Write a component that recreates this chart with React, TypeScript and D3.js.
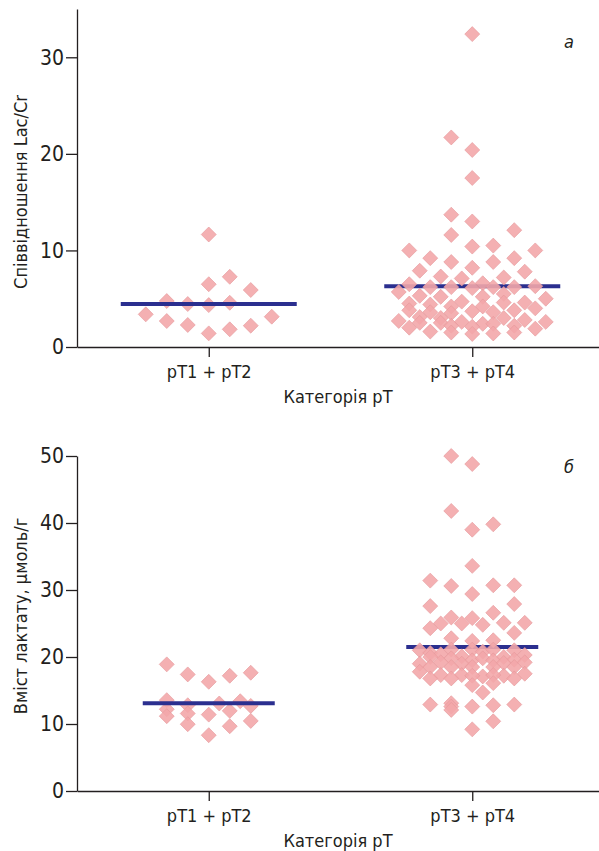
import { useEffect, useRef } from "react";
import * as d3 from "d3";

const categories = ["pT1 + pT2", "pT3 + pT4"];

// panel а: Lac/Cr ratio, points as [slot, value]
const ratioLow: [number, number][] = [
  [0, 11.65], [2, 7.27], [0, 6.5], [4, 5.9], [-4, 4.76], [-2, 4.45], [0, 4.34], [2, 4.58],
  [-6, 3.38], [-4, 2.69], [-2, 2.28], [0, 1.41], [2, 1.83], [4, 2.21], [6, 3.14],
];
const ratioHigh: [number, number][] = [
  [0, 32.4], [-2, 21.7], [0, 20.4], [0, 17.5], [-2, 13.7], [0, 13.0], [4, 12.1], [-2, 11.6],
  [0, 10.4], [2, 10.5], [-6, 10.0], [6, 10.0], [-4, 9.2], [-2, 8.8], [2, 8.8], [4, 9.2],
  [0, 8.2], [-5, 7.9], [5, 7.8], [-3, 7.3], [-1, 7.1], [3, 7.2],
  [-6, 6.5], [-4, 6.2], [-2, 6.2], [1, 6.6], [0, 6.1], [2, 6.2], [4, 6.2], [6, 6.3],
  [-7, 5.7], [-5, 5.3], [-3, 5.2], [1, 5.2], [3, 5.5], [7, 5.0], [-1, 4.7], [3, 4.6],
  [5, 4.6], [-6, 4.5], [-4, 4.4], [-2, 4.2], [1, 4.2],
  [-6, 3.8], [-4, 3.6], [-2, 3.5], [0, 3.7], [2, 3.6], [4, 3.8], [6, 4.0], [-5, 3.1],
  [-3, 3.0], [3, 3.0], [5, 2.8], [7, 2.6], [-7, 2.7], [-5, 2.5], [-3, 2.5], [-1, 2.6],
  [1, 2.4], [-6, 2.0], [-2, 2.2], [0, 2.1], [2, 2.4], [4, 2.2], [6, 1.9], [-4, 1.6],
  [-2, 1.5], [0, 1.35], [2, 1.4], [4, 1.5],
];
const ratioMedians = [4.45, 6.3];
const ratioTicks = [0, 10, 20, 30];

// panel б: lactate content
const lactateLow: [number, number][] = [
  [-4, 18.9], [-2, 17.4], [0, 16.3], [2, 17.2], [4, 17.65], [-4, 13.56], [-2, 12.8],
  [1, 13.06], [3, 13.4], [4, 12.7], [-4, 12.2], [-4, 11.17], [-2, 11.57], [0, 11.4],
  [2, 11.96], [-2, 9.97], [2, 9.67], [4, 10.46], [0, 8.33],
];
const lactateHigh: [number, number][] = [
  [-2, 50.0], [0, 48.8], [-2, 41.8], [0, 39.0], [2, 39.8], [0, 33.6], [-4, 31.4], [-2, 30.6],
  [2, 30.7], [4, 30.7], [0, 29.4], [-4, 27.6], [4, 27.9], [2, 26.6], [-2, 25.9], [0, 25.8],
  [-3, 25.0], [-1, 25.0], [1, 24.8], [3, 25.1], [5, 25.1], [-4, 24.3], [4, 23.6], [-2, 22.8],
  [0, 22.4], [2, 22.5],
  [-5, 21.0], [-4, 20.6], [-3, 20.4], [-2, 21.1], [-1, 20.1], [0, 21.1], [1, 20.8], [2, 21.1],
  [3, 20.0], [4, 21.0], [5, 20.3],
  [-4, 20.0], [-2, 19.8], [0, 19.5], [1, 19.8], [2, 19.5], [4, 19.6], [-5, 19.0], [-3, 19.2],
  [-1, 19.0], [3, 19.1], [5, 19.2],
  [-4, 18.5], [-2, 18.5], [0, 18.5], [2, 18.5], [4, 18.5],
  [-5, 17.8], [-3, 17.3], [-1, 17.3], [1, 17.1], [3, 17.2], [5, 17.5], [-4, 16.8], [-2, 16.8],
  [0, 17.2], [2, 17.3], [4, 16.8],
  [0, 15.8], [2, 16.1], [1, 14.7], [-4, 12.9], [-2, 13.1], [-2, 12.6], [-2, 12.1], [0, 12.6],
  [2, 12.8], [4, 12.9], [2, 10.4], [0, 9.2],
];
const lactateMedians = [13.1, 21.5];
const lactateTicks = [0, 10, 20, 30, 40, 50];

const W = 599;
const H = 851;
const FONT = "'Liberation Sans Narrow', 'DejaVu Sans Condensed', 'Arial Narrow', sans-serif";
const INK = "#231f20";
const PINK = "#f3a7aa";
const NAVY = "#2b2f8f";

const panels = [
  {
    top: 9, bottom: 347, max: 35, ticks: ratioTicks, groups: [ratioLow, ratioHigh],
    medians: ratioMedians, halfWidth: 88, title: "Співвідношення Lac/Cr", tag: "а",
    tagY: 48, titleY: 192,
  },
  {
    top: 456, bottom: 791, max: 50, ticks: lactateTicks, groups: [lactateLow, lactateHigh],
    medians: lactateMedians, halfWidth: 66, title: "Вміст лактату, μмоль/г", tag: "б",
    tagY: 473, titleY: 616,
  },
];

const App = () => {
  const ref = useRef<SVGSVGElement>(null);

  useEffect(() => {
    const svg = d3.select(ref.current);
    svg.selectAll("*").remove();

    const x = d3.scalePoint<string>().domain(categories).range([77, 604]).padding(0.5);
    const slot = d3.scaleLinear().domain([-1, 1]).range([-10.5, 10.5]);
    const diamond = d3.symbol(d3.symbolSquare, 112)();

    panels.forEach((p) => {
      const g = svg.append("g");
      const y = d3.scaleLinear().domain([0, p.max]).range([p.bottom, p.top]);

      const drawPoints = (i: number) => {
        g.append("g")
          .selectAll("path")
          .data(p.groups[i])
          .join("path")
          .attr("d", diamond)
          .attr("transform", (d) => `translate(${x(categories[i])! + slot(d[0])},${y(d[1])}) rotate(45)`)
          .attr("fill", PINK)
          .attr("fill-opacity", 0.9)
          .attr("stroke", "#e6989c")
          .attr("stroke-width", 0.6);
      };

      drawPoints(0);

      g.append("g")
        .selectAll("line")
        .data(p.medians)
        .join("line")
        .attr("x1", (d, i) => x(categories[i])! - p.halfWidth)
        .attr("x2", (d, i) => x(categories[i])! + p.halfWidth)
        .attr("y1", (d) => y(d))
        .attr("y2", (d) => y(d))
        .attr("stroke", NAVY)
        .attr("stroke-width", 4);

      drawPoints(1);

      const yAxis = g
        .append("g")
        .attr("transform", "translate(77,0)")
        .call(d3.axisLeft(y).tickValues(p.ticks).tickSize(11).tickSizeOuter(0).tickPadding(2));
      const xAxis = g
        .append("g")
        .attr("transform", `translate(0,${p.bottom})`)
        .call(d3.axisBottom(x).tickSize(10).tickSizeOuter(0).tickPadding(8));

      [yAxis, xAxis].forEach((a) => {
        a.select(".domain").attr("stroke", INK).attr("stroke-width", 1.3);
        a.selectAll(".tick line").attr("stroke", INK).attr("stroke-width", 1.3);
        a.selectAll(".tick text").attr("fill", INK).style("font-family", FONT);
      });
      yAxis.selectAll(".tick text").style("font-size", "21px");
      xAxis.selectAll(".tick text").style("font-size", "18px");

      g.append("text")
        .attr("x", 338)
        .attr("y", p.bottom + 56)
        .attr("text-anchor", "middle")
        .attr("fill", INK)
        .style("font-family", FONT)
        .style("font-size", "18px")
        .text("Категорія pT");

      g.append("text")
        .attr("transform", `translate(27,${p.titleY}) rotate(-90)`)
        .attr("text-anchor", "middle")
        .attr("fill", INK)
        .style("font-family", FONT)
        .style("font-size", "18px")
        .text(p.title);

      g.append("text")
        .attr("x", 569)
        .attr("y", p.tagY)
        .attr("text-anchor", "middle")
        .attr("fill", INK)
        .style("font-family", FONT)
        .style("font-style", "italic")
        .style("font-size", "18px")
        .text(p.tag);
    });
  }, []);

  return (
    <div style={{ position: "absolute", left: 0, top: 0 }}>
      <svg ref={ref} width={W} height={H} style={{ display: "block", background: "#fff" }} />
    </div>
  );
};

export default App;
